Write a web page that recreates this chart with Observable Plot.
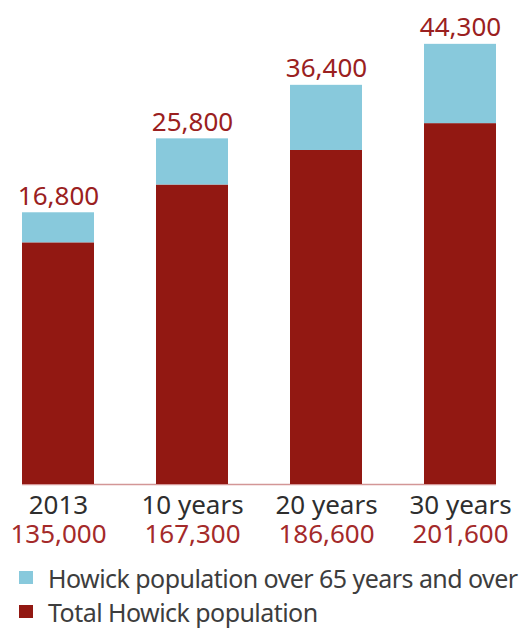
<!DOCTYPE html>
<html>
<head>
<meta charset="utf-8">
<script src="https://cdn.jsdelivr.net/npm/d3@7"></script>
<script src="https://cdn.jsdelivr.net/npm/@observablehq/plot@0.6"></script>
<style>
  html, body { margin: 0; padding: 0; background: #fff; }
  #chart svg { display: block; }
  .legend { font-family: "Noto Sans", sans-serif; font-size: 25px; letter-spacing: -0.55px; color: #3d3d3d; margin-top: 5.5px; white-space: nowrap; }
  .legend .row { display: flex; align-items: center; height: 34px; }
  .legend .sw { flex: none; width: 14px; height: 13px; margin-left: 19px; margin-right: 15px; }
</style>
</head>
<body>
<div id="chart"></div>
<div class="legend" id="legend"></div>
<script>
const categories = ["2013", "10 years", "20 years", "30 years"];
const totalPop = [135000, 167300, 186600, 201600];
const over65 = [16800, 25800, 36400, 44300];
const seriesNames = ["Howick population over 65 years and over", "Total Howick population"];
const seriesColors = ["#88c9dc", "#921812"];

const rows = categories.map((c, i) => ({cat: c, total: totalPop[i], old: over65[i]}));
const fmt = d3.format(",");

const chart = Plot.plot({
  width: 520,
  height: 555,
  marginLeft: 22,
  marginRight: 24,
  marginTop: 36.5,
  marginBottom: 71,
  style: {fontFamily: "Noto Sans, sans-serif", background: "#fff"},
  x: {domain: categories, paddingInner: 0.463, paddingOuter: 0, axis: null},
  y: {domain: [0, 250000], axis: null},
  marks: [
    Plot.ruleY([0], {stroke: "#d39696", strokeWidth: 1.5}),
    Plot.barY(rows, {x: "cat", y1: 0, y2: "total", fill: seriesColors[1]}),
    Plot.barY(rows, {x: "cat", y1: "total", y2: d => d.total + d.old, fill: seriesColors[0]}),
    Plot.text(rows, {x: "cat", y: d => d.total + d.old, text: d => fmt(d.old), lineAnchor: "middle", dy: -16.5, fontSize: 26, fill: "#9a2020"}),
    Plot.text(rows, {x: "cat", y: 0, text: "cat", lineAnchor: "middle", dy: 21.5, fontSize: 26, fill: "#2e2e2e"}),
    Plot.text(rows, {x: "cat", y: 0, text: d => fmt(d.total), lineAnchor: "middle", dy: 50.5, fontSize: 26, fill: "#a42a2a"})
  ]
});
document.getElementById("chart").appendChild(chart);

const legend = document.getElementById("legend");
seriesNames.forEach((name, i) => {
  const row = document.createElement("div");
  row.className = "row";
  const sw = document.createElement("span");
  sw.className = "sw";
  sw.style.background = seriesColors[i];
  const t = document.createElement("span");
  t.textContent = name;
  row.appendChild(sw);
  row.appendChild(t);
  legend.appendChild(row);
});
</script>
</body>
</html>
